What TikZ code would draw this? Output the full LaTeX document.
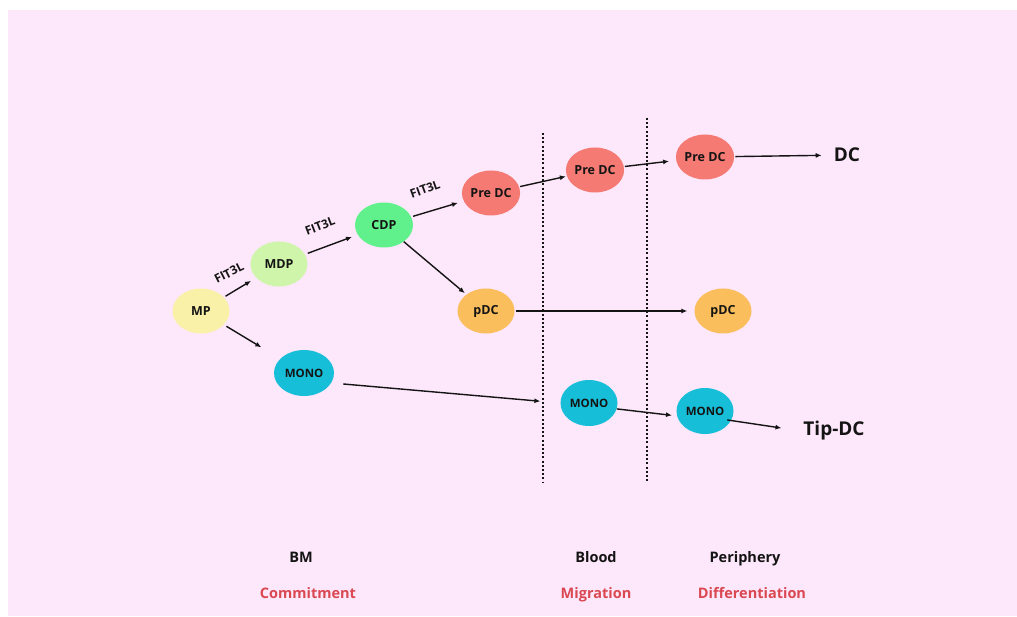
\documentclass[tikz,border=0pt]{standalone}
\usepackage{fontspec}
\setmainfont{Open Sans}
\usetikzlibrary{arrows.meta,shapes.geometric}
\definecolor{bgpink}{RGB}{253,231,250}
\definecolor{cMP}{RGB}{249,241,168}
\definecolor{cMDP}{RGB}{207,245,170}
\definecolor{cCDP}{RGB}{96,240,140}
\definecolor{cPre}{RGB}{244,122,115}
\definecolor{cpDC}{RGB}{250,190,92}
\definecolor{cMONO}{RGB}{22,190,216}
\definecolor{cRed}{RGB}{218,72,82}
\definecolor{ink}{RGB}{20,20,20}
\tikzset{
  cell/.style={ellipse, fill=#1, draw=none, minimum width=57pt, minimum height=45pt, inner sep=0pt,
    font=\fontsize{12.5}{14}\selectfont\bfseries, text=ink},
  monocell/.style={cell=cMONO, minimum width=60pt, minimum height=46pt, font=\fontsize{11.5}{13}\selectfont\bfseries},
  arr/.style={-{Latex[length=6pt,width=5pt]}, line width=1.4pt, draw=ink},
  fit/.style={font=\fontsize{12}{13}\selectfont\bfseries, text=ink, inner sep=0pt},
  big/.style={font=\fontsize{19}{22}\selectfont\bfseries, text=ink, inner sep=2pt},
  region/.style={font=\fontsize{14.5}{16}\selectfont\bfseries, text=ink, anchor=base},
  phase/.style={font=\fontsize{14.5}{16}\selectfont\bfseries, text=cRed, anchor=base},
  divider/.style={line width=2.4pt, ink, dash pattern=on 2pt off 2.2pt}
}
\begin{document}
\begin{tikzpicture}[x=1pt,y=-1pt]
\useasboundingbox (0,0) rectangle (1017,617);
\fill[white] (0,0) rectangle (1017,617);
\fill[bgpink] (8,10) rectangle (1017,616);

% dividers
\draw[divider] (543,133) -- (543,483);
\draw[divider] (647,118) -- (647,483);

% nodes
\node[cell=cMP]  (MP)   at (201,311) {MP};
\node[cell=cMDP] (MDP)  at (279,264) {MDP};
\node[cell=cCDP, minimum width=58pt] (CDP) at (384,225) {CDP};
\node[cell=cPre] (Pre1) at (491,193) {Pre DC};
\node[cell=cPre] (Pre2) at (595,170) {Pre DC};
\node[cell=cPre] (Pre3) at (705,157) {Pre DC};
\node[cell=cpDC] (pDC1) at (486,311) {pDC};
\node[cell=cpDC] (pDC2) at (723,311) {pDC};
\node[monocell] (MONO1) at (304,373) {MONO};
\node[monocell, minimum width=57pt] (MONO2) at (589,403) {MONO};
\node[monocell, minimum width=57pt] (MONO3) at (705,411) {MONO};
\node[big] (DC)  at (847,155) {DC};
\node[big] (Tip) at (834,431) {Tip-DC};

% arrows
\draw[arr, shorten <=2pt, shorten >=6pt] (MP) -- (MDP);
\draw[arr, shorten <=3pt, shorten >=22pt] (MP) -- (MONO1);
\draw[arr, shorten <=3pt, shorten >=6pt] (MDP) -- (CDP);
\draw[arr, shorten <=2pt, shorten >=6pt] (CDP) -- (Pre1);
\draw[arr, shorten <=0pt, shorten >=2pt] (CDP) -- (pDC1);
\draw[arr, shorten <=1pt, shorten >=1pt] (Pre1) -- (Pre2);
\draw[arr, shorten <=1pt, shorten >=7pt] (Pre2) -- (Pre3);
\draw[arr, shorten <=1pt, shorten >=10pt] (Pre3) -- (DC);
\draw[arr, shorten <=1pt, shorten >=7pt] (pDC1) -- (pDC2);
\draw[arr, shorten <=12pt, shorten >=20pt] (MONO1.-20) -- (MONO2.west);
\draw[arr, shorten <=0pt, shorten >=5pt] (MONO2.-12) -- (MONO3.190);
\draw[arr, shorten <=-4pt, shorten >=20pt] (MONO3.-20) -- (Tip.west);

% FIT3L labels
\node[fit, rotate=27] (f1) at (229,273) {FIT3L};
\node[fit, rotate=21] (f2) at (320,226) {FIT3L};
\node[fit, rotate=20] (f3) at (425,189) {FIT3L};

% bottom labels
\node[region] (BM) at (301,562) {BM};
\node[region] (Blood) at (596,562) {Blood};
\node[region] (Peri) at (745,562) {Periphery};
\node[phase] (Comm) at (308,598) {Commitment};
\node[phase] (Migr) at (596,598) {Migration};
\node[phase] (Diff) at (752,598) {Differentiation};
\end{tikzpicture}
\end{document}
